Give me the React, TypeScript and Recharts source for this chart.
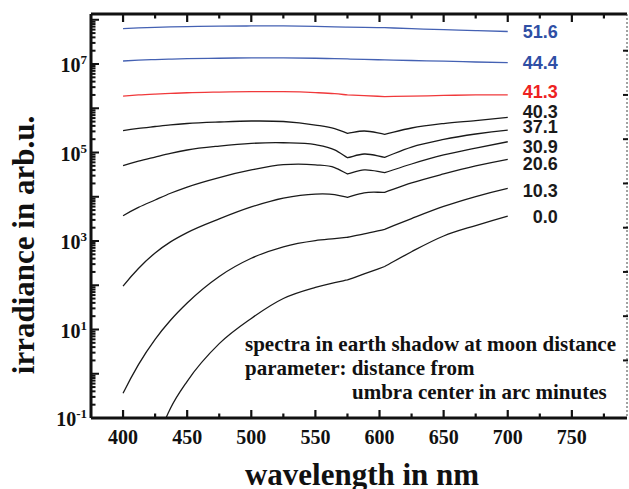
import React from 'react';
import { LineChart, Line, XAxis, YAxis, LabelList } from 'recharts';

// wavelength grid in nm
const WAVELENGTH = [400, 412, 425, 437, 450, 475, 500, 525, 550, 565, 575, 588, 604, 625, 650, 675, 700];

// irradiance (arb.u.) for each distance from umbra centre (arc minutes)
const S_51_6 = [6.31e7, 6.53e7, 6.76e7, 6.92e7, 7.0e7, 7.16e7, 7.24e7, 7.24e7, 7.08e7, 6.92e7, 6.84e7, 6.76e7, 6.61e7, 6.31e7, 5.96e7, 5.69e7, 5.43e7];
const S_44_4 = [1.17e7, 1.22e7, 1.26e7, 1.29e7, 1.32e7, 1.35e7, 1.38e7, 1.38e7, 1.35e7, 1.32e7, 1.3e7, 1.27e7, 1.24e7, 1.2e7, 1.16e7, 1.11e7, 1.07e7];
const S_41_3 = [1.89e6, 2.0e6, 2.09e6, 2.16e6, 2.24e6, 2.32e6, 2.37e6, 2.37e6, 2.26e6, 2.14e6, 2.0e6, 1.93e6, 1.84e6, 1.88e6, 1.95e6, 2.0e6, 2.0e6];
const S_40_3 = [3.11e5, 3.51e5, 3.87e5, 4.22e5, 4.52e5, 4.89e5, 5.15e5, 5.02e5, 4.18e5, 3.48e5, 2.72e5, 3.06e5, 2.58e5, 3.58e5, 4.52e5, 5.28e5, 6.24e5];
const S_37_1 = [5.04e4, 6.38e4, 7.91e4, 9.59e4, 1.14e5, 1.4e5, 1.61e5, 1.66e5, 1.51e5, 1.15e5, 7.63e4, 9.25e4, 7.8e4, 1.33e5, 1.97e5, 2.62e5, 3.22e5];
const S_30_9 = [3.73e3, 5.75e3, 8.45e3, 1.2e4, 1.66e4, 2.72e4, 4.03e4, 5.3e4, 5.25e4, 4.57e4, 3.27e4, 4.03e4, 3.5e4, 5.5e4, 8.79e4, 1.26e5, 1.75e5];
const S_20_6 = [96, 240, 537, 955, 1549, 3162, 5888, 9333, 1.15e4, 1.12e4, 9.7e3, 1.23e4, 1.26e4, 2.05e4, 3.27e4, 4.96e4, 7.02e4];
const S_10_3 = [0.361, 1.61, 6.0, 16.2, 39.8, 158, 407, 741, 1023, 1135, 1216, 1445, 1837, 3214, 6030, 1.01e4, 1.55e4];
const S_0_0 = [null, null, 0.024, 0.166, 0.676, 4.79, 17.8, 50.1, 89.1, 115, 132, 180, 265, 573, 1297, 2240, 3673];

const SERIES_LABELS = ['51.6', '44.4', '41.3', '40.3', '37.1', '30.9', '20.6', '10.3', '0.0'];
const SERIES_VALUES = [S_51_6, S_44_4, S_41_3, S_40_3, S_37_1, S_30_9, S_20_6, S_10_3, S_0_0];

// wavelengths where the spectra show a sharp bend (absorption features)
const CORNER_NM = [575, 604];

const BLUE_LINE = '#4461b3';
const BLUE_TEXT = '#2f4fa5';
const RED_LINE = '#f0393b';
const RED_TEXT = '#ee2222';
const BLACK = '#1a1a1a';

const LINE_COLORS = [BLUE_LINE, BLUE_LINE, RED_LINE, BLACK, BLACK, BLACK, BLACK, BLACK, BLACK];
const TEXT_COLORS = [BLUE_TEXT, BLUE_TEXT, RED_TEXT, BLACK, BLACK, BLACK, BLACK, BLACK, BLACK];
const LABEL_DY = [0, 0, -3, -5.5, -3.5, 4.5, 4, 2, 0.5];

// axis ticks
const X_TICKS = [400, 425, 450, 475, 500, 525, 550, 575, 600, 625, 650, 675, 700, 725, 750, 775];
const X_LABELED = [400, 450, 500, 550, 600, 650, 700, 750];
const Y_DECADES = [-1, 0, 1, 2, 3, 4, 5, 6, 7, 8];
const Y_LABEL_EXP = [-1, 1, 3, 5, 7];
const Y_MINOR_MULT = [2, 3, 4, 5, 6, 7, 8, 9];
const RIGHT_TICKS = [2, 20, 200, 2000, 2e4, 2e5, 2e6, 2e7];

const X_DOMAIN: [number, number] = [375, 793];
const Y_DOMAIN: [number, number] = [0.1, 1.35e8];

const KEYS = SERIES_LABELS.map((_, i) => 's' + i);

const DATA = WAVELENGTH.map((nm, i) => {
  const row: Record<string, number | null> = { nm };
  SERIES_VALUES.forEach((vals, k) => {
    row[KEYS[k]] = vals[i];
  });
  return row;
});

const Y_TICKS: number[] = [];
Y_DECADES.forEach((e) => {
  const base = Math.pow(10, e);
  if (base >= Y_DOMAIN[0] && base <= Y_DOMAIN[1]) Y_TICKS.push(base);
  Y_MINOR_MULT.forEach((m) => {
    const v = m * base;
    if (v > Y_DOMAIN[0] && v < Y_DOMAIN[1]) Y_TICKS.push(v);
  });
});

// Smooth cubic curve (three-point tangents) that keeps sharp corners at CORNER_NM.
const makeCurve = (offset: number) => (context: any) => {
  let pts: number[][] = [];
  return {
    areaStart() {},
    areaEnd() {},
    lineStart() {
      pts = [];
    },
    point(x: number, y: number) {
      pts.push([+x, +y]);
    },
    lineEnd() {
      const n = pts.length;
      if (!n) return;
      context.moveTo(pts[0][0], pts[0][1]);
      if (n === 1) return;
      if (n === 2) {
        context.lineTo(pts[1][0], pts[1][1]);
        return;
      }
      const h: number[] = [];
      const d: number[] = [];
      for (let i = 0; i < n - 1; i++) {
        h[i] = pts[i + 1][0] - pts[i][0];
        d[i] = (pts[i + 1][1] - pts[i][1]) / h[i];
      }
      const tL: number[] = new Array(n).fill(0);
      const tR: number[] = new Array(n).fill(0);
      const isCorner = (i: number) => CORNER_NM.includes(WAVELENGTH[i + offset]);
      for (let i = 1; i < n - 1; i++) {
        if (isCorner(i)) {
          tL[i] = d[i - 1];
          tR[i] = d[i];
        } else {
          const t = (d[i - 1] * h[i] + d[i] * h[i - 1]) / (h[i - 1] + h[i]);
          tL[i] = t;
          tR[i] = t;
        }
      }
      tR[0] = isCorner(1) ? d[0] : d[0] + ((d[0] - d[1]) * h[0]) / (h[0] + h[1]);
      tL[n - 1] = isCorner(n - 2)
        ? d[n - 2]
        : d[n - 2] + ((d[n - 2] - d[n - 3]) * h[n - 2]) / (h[n - 2] + h[n - 3]);
      for (let i = 0; i < n - 1; i++) {
        const [x0, y0] = pts[i];
        const [x1, y1] = pts[i + 1];
        const s = h[i] / 3;
        context.bezierCurveTo(x0 + s, y0 + tR[i] * s, x1 - s, y1 - tL[i + 1] * s, x1, y1);
      }
    },
  };
};

const SERIF = '"Liberation Serif", "Times New Roman", Times, serif';
const SANS = '"Liberation Sans", Arial, Helvetica, sans-serif';
const AXIS_COLOR = '#111';

const BottomTick = (props: any) => {
  const { x, y, payload } = props;
  const v = payload.value;
  const major = X_LABELED.includes(v);
  return (
    <g>
      <line x1={x} x2={x} y1={y} y2={y - (major ? 8 : 4.5)} stroke={AXIS_COLOR} strokeWidth={2.2} />
      {major && (
        <text x={x} y={y + 26} textAnchor="middle" fontFamily={SERIF} fontWeight="bold" fontSize={20} fill={AXIS_COLOR}>
          {v}
        </text>
      )}
    </g>
  );
};

const TopTick = (props: any) => {
  const { x, y, payload } = props;
  const major = X_LABELED.includes(payload.value);
  return <line x1={x} x2={x} y1={y} y2={y + (major ? 8 : 4.5)} stroke={AXIS_COLOR} strokeWidth={2.2} />;
};

const LeftTick = (props: any) => {
  const { x, y, payload } = props;
  const v = payload.value;
  const lg = Math.log10(v);
  const e = Math.round(lg);
  const major = Math.abs(lg - e) < 1e-6;
  const labeled = major && Y_LABEL_EXP.includes(e);
  return (
    <g>
      <line x1={x} x2={x + (major ? 8 : 4.5)} y1={y} y2={y} stroke={AXIS_COLOR} strokeWidth={2} />
      {labeled && (
        <text x={x - 4} y={y + 8} textAnchor="end" fontFamily={SERIF} fontWeight="bold" fontSize={20} fill={AXIS_COLOR}>
          10
          <tspan dy={-8} fontSize={13}>
            {e}
          </tspan>
        </text>
      )}
    </g>
  );
};

const RightTick = (props: any) => {
  const { x, y } = props;
  return <line x1={x + 1} x2={x - 4} y1={y} y2={y} stroke={AXIS_COLOR} strokeWidth={2} />;
};

const makeEndLabel = (k: number) => (props: any) => {
  const { x, y, index } = props;
  if (index !== WAVELENGTH.length - 1 || x == null || y == null) return null;
  return (
    <text
      x={x + 50}
      y={y + LABEL_DY[k] + 6.5}
      textAnchor="end"
      fontFamily={SANS}
      fontWeight="bold"
      fontSize={18}
      fill={TEXT_COLORS[k]}
    >
      {SERIES_LABELS[k]}
    </text>
  );
};

const firstIndex = (vals: (number | null)[]) => vals.findIndex((v) => v != null);

export default function App() {
  return (
    <div style={{ position: 'absolute', left: 0, top: 0, width: 629, height: 489, background: '#fff' }}>
      <LineChart width={629} height={489} data={DATA} margin={{ top: 13, right: 0, bottom: 0, left: 0 }}>
        <XAxis
          xAxisId="bottom"
          dataKey="nm"
          type="number"
          domain={X_DOMAIN}
          allowDataOverflow
          ticks={X_TICKS}
          interval={0}
          height={71}
          tickSize={0}
          tickMargin={0}
          tickLine={false}
          axisLine={{ stroke: AXIS_COLOR, strokeWidth: 3 }}
          tick={<BottomTick />}
        />
        <XAxis
          xAxisId="top"
          orientation="top"
          dataKey="nm"
          type="number"
          domain={X_DOMAIN}
          allowDataOverflow
          ticks={X_TICKS}
          interval={0}
          height={1}
          tickSize={0}
          tickMargin={0}
          tickLine={false}
          axisLine={{ stroke: AXIS_COLOR, strokeWidth: 3 }}
          tick={<TopTick />}
        />
        <YAxis
          yAxisId="left"
          scale="log"
          type="number"
          domain={Y_DOMAIN}
          allowDataOverflow
          ticks={Y_TICKS}
          interval={0}
          width={91}
          tickSize={0}
          tickMargin={0}
          tickLine={false}
          axisLine={{ stroke: AXIS_COLOR, strokeWidth: 3 }}
          tick={<LeftTick />}
        />
        <YAxis
          yAxisId="right"
          orientation="right"
          scale="log"
          type="number"
          domain={Y_DOMAIN}
          allowDataOverflow
          ticks={RIGHT_TICKS}
          interval={0}
          width={2}
          tickSize={0}
          tickMargin={0}
          tickLine={false}
          axisLine={{ stroke: '#444', strokeWidth: 1, strokeDasharray: '2 2' }}
          tick={<RightTick />}
        />
        {KEYS.map((key, k) => (
          <Line
            key={key}
            xAxisId="bottom"
            yAxisId="left"
            type={makeCurve(firstIndex(SERIES_VALUES[k])) as any}
            dataKey={key}
            stroke={LINE_COLORS[k]}
            strokeWidth={1.3}
            dot={false}
            activeDot={false}
            connectNulls={false}
            isAnimationActive={false}
          >
            <LabelList dataKey={key} content={makeEndLabel(k)} />
          </Line>
        ))}
      </LineChart>
      <svg
        width={629}
        height={489}
        style={{ position: 'absolute', left: 0, top: 0, pointerEvents: 'none' }}
      >
        <g fontFamily={SERIF} fontWeight="bold" fill={AXIS_COLOR}>
          <text x={245} y={351} fontSize={21}>spectra in earth shadow at moon distance</text>
          <text x={245} y={375} fontSize={21}>parameter: distance from</text>
          <text x={352} y={399} fontSize={21}>umbra center in arc minutes</text>
          <text x={362} y={485} fontSize={31} textAnchor="middle">wavelength in nm</text>
          <text x={34} y={245} fontSize={31} textAnchor="middle" transform="rotate(-90 34 245)">
            irradiance in arb.u.
          </text>
        </g>
      </svg>
    </div>
  );
}
